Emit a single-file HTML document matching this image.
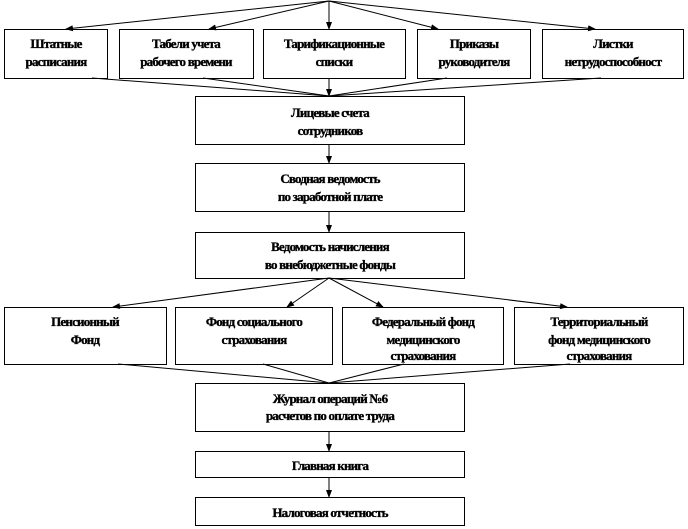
<!DOCTYPE html>
<html><head><meta charset="utf-8"><style>
html,body{margin:0;padding:0;background:#fff;}
svg{display:block;}
text{font-family:"Liberation Serif","DejaVu Serif",serif;font-weight:bold;font-size:13px;fill:#000;stroke:#000;stroke-width:0.35px;text-anchor:middle;letter-spacing:-0.8px;}
</style></head><body>
<svg width="688" height="529" viewBox="0 0 688 529" xmlns="http://www.w3.org/2000/svg">
<defs><marker id="a" markerWidth="8" markerHeight="8" refX="7" refY="4" orient="auto" markerUnits="userSpaceOnUse"><path d="M0,1 L8,4 L0,7 Z" fill="#000"/></marker></defs>
<g stroke="#000" stroke-width="1" fill="none">
<line x1="329" y1="1" x2="66" y2="29" marker-end="url(#a)"/>
<line x1="329" y1="1" x2="209" y2="29" marker-end="url(#a)"/>
<line x1="329" y1="1" x2="329" y2="29" marker-end="url(#a)"/>
<line x1="329" y1="1" x2="438" y2="29" marker-end="url(#a)"/>
<line x1="329" y1="1" x2="595" y2="29" marker-end="url(#a)"/>
<line x1="92" y1="78" x2="329" y2="96"/>
<line x1="203" y1="78" x2="329" y2="96"/>
<line x1="329" y1="78" x2="329" y2="96" marker-end="url(#a)"/>
<line x1="447" y1="78" x2="329" y2="96"/>
<line x1="601" y1="78" x2="329" y2="96"/>
<line x1="329" y1="145" x2="329" y2="163" marker-end="url(#a)"/>
<line x1="329" y1="211" x2="329" y2="232" marker-end="url(#a)"/>
<line x1="329" y1="278" x2="113" y2="307" marker-end="url(#a)"/>
<line x1="329" y1="278" x2="287" y2="307" marker-end="url(#a)"/>
<line x1="329" y1="278" x2="383" y2="307" marker-end="url(#a)"/>
<line x1="329" y1="278" x2="567" y2="307" marker-end="url(#a)"/>
<line x1="118" y1="364" x2="329" y2="383"/>
<line x1="263" y1="364" x2="329" y2="383"/>
<line x1="404" y1="364" x2="329" y2="383"/>
<line x1="570" y1="364" x2="329" y2="383"/>
<line x1="329" y1="431" x2="329" y2="451" marker-end="url(#a)"/>
<line x1="329" y1="477" x2="329" y2="497" marker-end="url(#a)"/>
<rect x="4.5" y="29.5" width="103" height="49"/>
<rect x="119.5" y="29.5" width="134" height="49"/>
<rect x="263.5" y="29.5" width="142" height="49"/>
<rect x="417.5" y="29.5" width="113" height="49"/>
<rect x="542.5" y="29.5" width="141" height="49"/>
<rect x="195.5" y="96.5" width="269" height="48"/>
<rect x="195.5" y="163.5" width="269" height="48"/>
<rect x="195.5" y="232.5" width="269" height="46"/>
<rect x="4.5" y="307.5" width="162" height="57"/>
<rect x="175.5" y="307.5" width="157" height="57"/>
<rect x="342.5" y="307.5" width="161" height="57"/>
<rect x="514.5" y="307.5" width="169" height="57"/>
<rect x="195.5" y="383.5" width="269" height="48"/>
<rect x="195.5" y="451.5" width="269" height="26"/>
<rect x="195.5" y="497.5" width="269" height="28"/>
</g>
<text x="56" y="48">Штатные</text><text x="56" y="66">расписания</text>
<text x="186" y="48">Табели учета</text><text x="186" y="66">рабочего времени</text>
<text x="334" y="48">Тарификационные</text><text x="334" y="66">списки</text>
<text x="474" y="48">Приказы</text><text x="474" y="66">руководителя</text>
<text x="613" y="48">Листки</text><text x="613" y="66">нетрудоспособност</text>
<text x="330" y="117">Лицевые счета</text><text x="330" y="135">сотрудников</text>
<text x="330" y="183">Сводная ведомость</text><text x="330" y="201">по заработной плате</text>
<text x="330" y="251">Ведомость начисления</text><text x="330" y="269">во внебюджетные фонды</text>
<text x="85" y="326">Пенсионный</text><text x="85" y="344">Фонд</text>
<text x="254" y="326">Фонд социального</text><text x="254" y="344">страхования</text>
<text x="423" y="326">Федеральный фонд</text><text x="423" y="344">медицинского</text><text x="423" y="360">страхования</text>
<text x="599" y="326">Территориальный</text><text x="599" y="344">фонд медицинского</text><text x="599" y="360">страхования</text>
<text x="330" y="403">Журнал операций №6</text><text x="330" y="420">расчетов по оплате труда</text>
<text x="330" y="470">Главная книга</text>
<text x="330" y="517">Налоговая отчетность</text>
</svg>
</body></html>
